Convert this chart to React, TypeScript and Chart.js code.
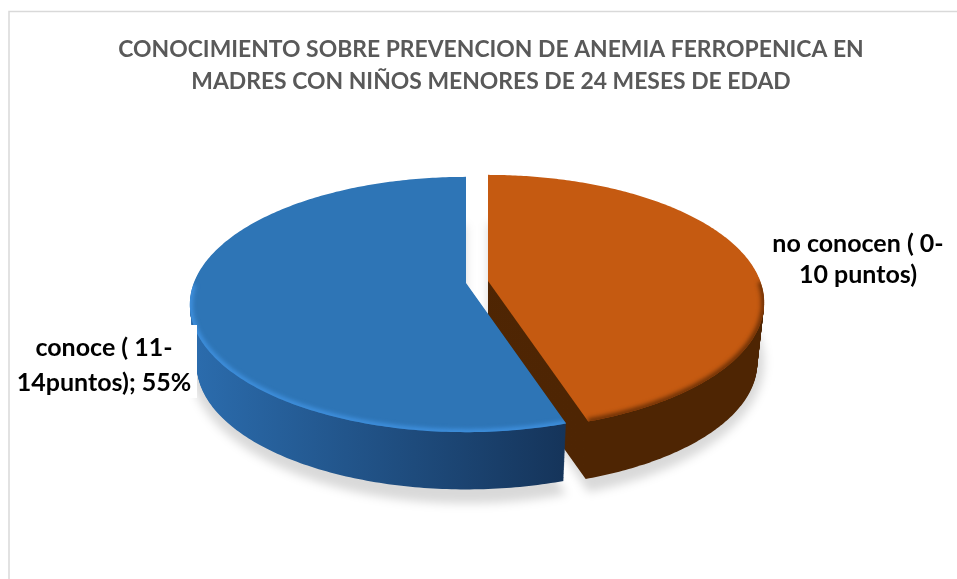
import React, { useEffect, useRef } from "react";
import { Chart, registerables } from "chart.js";

Chart.register(...registerables);

const categories = ["no conocen ( 0-10 puntos)", "conoce ( 11-14puntos)"];
const shares = [45, 55];
const titleLines = [
  "CONOCIMIENTO SOBRE PREVENCION DE ANEMIA FERROPENICA EN",
  "MADRES CON NIÑOS MENORES DE 24 MESES DE EDAD",
];
const orangeLabel = ["no conocen ( 0-", "10 puntos)"];
const blueLabel = ["conoce ( 11-", "14puntos); 55%"];

const topColors = ["#c55a11", "#2e75b6"];
const rimColors = ["#6b3006", "#3f90de"];
const sideStops = [
  ["#502604", "#4e2503"],
  ["#2b6cad", "#15345a"],
];
// Each slice is pulled out of the pie by this much.
const explode = [
  { x: -3, y: -2 },
  { x: -25, y: 0 },
];

const PERSPECTIVE = -0.1686;
const WIDTH_RATIO = 2.195;
const DEPTH = 61;
const BOTTOM_SCALE = 0.975;

type Pt = { x: number; y: number };

// Projects a polar position on the pie onto the tilted disc.
function project(cx: number, cy: number, r: number, a: number, radial: number, sx = 1, sy = 1, drop = 0): Pt {
  const u = Math.cos(a) * radial;
  const v = Math.sin(a) * radial;
  const w = 1 + PERSPECTIVE * v;
  return {
    x: cx + (sx * WIDTH_RATIO * r * u) / w,
    y: cy + (sy * r * v) / w + drop,
  };
}

function slicePath(ctx: CanvasRenderingContext2D, arc: any, off: Pt, sx = 1, sy = 1, drop = 0) {
  const cx = arc.x + off.x;
  const cy = arc.y + off.y;
  ctx.beginPath();
  const apex = project(cx, cy, arc.outerRadius, 0, 0, sx, sy, drop);
  ctx.moveTo(apex.x, apex.y);
  const steps = 240;
  for (let i = 0; i <= steps; i++) {
    const a = arc.startAngle + ((arc.endAngle - arc.startAngle) * i) / steps;
    const p = project(cx, cy, arc.outerRadius, a, 1, sx, sy, drop);
    ctx.lineTo(p.x, p.y);
  }
  ctx.closePath();
}

const tiltedPie = {
  id: "tiltedPie",
  beforeDatasetDraw(chart: any, args: any) {
    const ctx: CanvasRenderingContext2D = chart.ctx;
    const arcs = args.meta.data.map((el: any) =>
      el.getProps(["x", "y", "startAngle", "endAngle", "outerRadius"], true)
    );

    // Soft ground shadow
    ctx.save();
    ctx.filter = "blur(5px)";
    ctx.fillStyle = "rgba(0,0,0,0.15)";
    arcs.forEach((arc: any, i: number) => {
      slicePath(ctx, arc, explode[i], 1, 1.09, 58);
      ctx.fill();
    });
    ctx.restore();

    arcs.forEach((arc: any, i: number) => {
      const off = explode[i];
      const halfW = arc.outerRadius * WIDTH_RATIO;
      const grad = ctx.createLinearGradient(arc.x + off.x - halfW, 0, arc.x + off.x + 100, 0);
      grad.addColorStop(0, sideStops[i][0]);
      grad.addColorStop(1, sideStops[i][1]);

      // Extruded wall, stacked from the base up to the top face
      ctx.fillStyle = grad;
      for (let d = DEPTH; d > 0; d--) {
        const s = 1 - ((1 - BOTTOM_SCALE) * d) / DEPTH;
        slicePath(ctx, arc, off, s, s, d);
        ctx.fill();
      }

      // Top face
      ctx.fillStyle = topColors[i];
      slicePath(ctx, arc, off);
      ctx.fill();

      // Bevel along the front of the rim
      ctx.save();
      slicePath(ctx, arc, off);
      ctx.clip();
      ctx.filter = "blur(2px)";
      ctx.strokeStyle = rimColors[i];
      ctx.lineWidth = 6;
      ctx.beginPath();
      const cx = arc.x + off.x;
      const cy = arc.y + off.y;
      let started = false;
      const steps = 240;
      for (let k = 0; k <= steps; k++) {
        const a = arc.startAngle + ((arc.endAngle - arc.startAngle) * k) / steps;
        if (Math.sin(a) < 0) continue;
        const p = project(cx, cy, arc.outerRadius, a, 1);
        if (!started) {
          ctx.moveTo(p.x, p.y);
          started = true;
        } else {
          ctx.lineTo(p.x, p.y);
        }
      }
      ctx.stroke();
      ctx.restore();
    });
    return false;
  },
};

const frameAndLabels = {
  id: "frameAndLabels",
  beforeDraw(chart: any) {
    const ctx: CanvasRenderingContext2D = chart.ctx;
    ctx.save();
    ctx.fillStyle = "#ffffff";
    ctx.fillRect(0, 0, chart.width, chart.height);
    ctx.strokeStyle = "#d9d9d9";
    ctx.lineWidth = 1.5;
    ctx.beginPath();
    ctx.moveTo(9, 579);
    ctx.lineTo(9, 11.5);
    ctx.lineTo(957, 11.5);
    ctx.stroke();
    ctx.restore();
  },
  afterDraw(chart: any) {
    const ctx: CanvasRenderingContext2D = chart.ctx;
    ctx.save();
    // The left label sits on an opaque white box
    ctx.fillStyle = "#ffffff";
    ctx.fillRect(12, 325, 185, 73);
    ctx.fillStyle = "#000000";
    ctx.font = "bold 25px Lato";
    ctx.textAlign = "center";
    ctx.textBaseline = "middle";
    orangeLabel.forEach((t, i) => ctx.fillText(t, 858, 244 + i * 31));
    blueLabel.forEach((t, i) => ctx.fillText(t, 104, 348 + i * 35));
    ctx.restore();
  },
};

export default function App() {
  const ref = useRef<HTMLCanvasElement>(null);
  useEffect(() => {
    const chart = new Chart(ref.current!, {
      type: "pie",
      data: {
        labels: categories,
        datasets: [{ data: shares, backgroundColor: topColors, borderWidth: 0 }],
      },
      options: {
        animation: false,
        responsive: false,
        layout: { padding: { left: 25, right: 0, top: 0, bottom: 172 } },
        plugins: {
          legend: { display: false },
          tooltip: { enabled: false },
          title: {
            display: true,
            text: titleLines,
            color: "#595959",
            font: { family: "Lato", size: 22.9, weight: "bold", lineHeight: 1.397 },
            padding: { top: 34, bottom: 61 },
          },
        },
      },
      plugins: [tiltedPie, frameAndLabels],
    } as any);
    return () => chart.destroy();
  }, []);
  return (
    <div style={{ position: "fixed", left: 0, top: 0, width: 957, height: 579 }}>
      <canvas ref={ref} width={957} height={579} style={{ display: "block" }} />
    </div>
  );
}
